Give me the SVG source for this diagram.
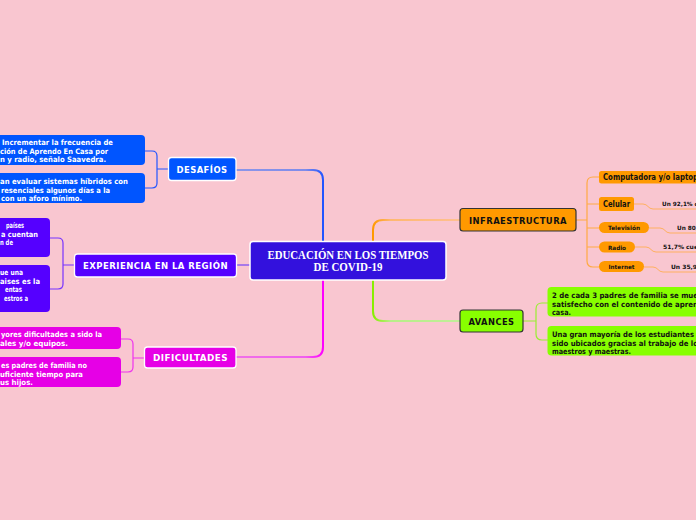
<svg xmlns="http://www.w3.org/2000/svg" width="696" height="520" viewBox="0 0 696 520">
<defs>
<style>
.t{font-family:"DejaVu Sans","Liberation Sans",sans-serif;font-weight:bold}
.w{fill:#fff}
.k{fill:#111}
.c7{font-size:7.5px}
.c8{font-size:8px}
.c6{font-size:5.8px}
.top{font-size:9.5px;letter-spacing:0.5px}
.main{fill:none;stroke-width:2;stroke-linecap:round}
.sub{fill:none;stroke-width:1.2}
.sm{fill:none;stroke:#FFB060;stroke-width:1}
</style>
<linearGradient id="gB" gradientUnits="userSpaceOnUse" x1="236" y1="0" x2="323" y2="0"><stop offset="0" stop-color="#8C96E8"/><stop offset="0.8" stop-color="#7F8CEA"/><stop offset="1" stop-color="#2255FF"/></linearGradient>
<linearGradient id="gM" gradientUnits="userSpaceOnUse" x1="236" y1="0" x2="323" y2="0"><stop offset="0" stop-color="#F070E8"/><stop offset="0.8" stop-color="#F060EE"/><stop offset="1" stop-color="#FF00FF"/></linearGradient>
<linearGradient id="gO" gradientUnits="userSpaceOnUse" x1="373" y1="0" x2="460" y2="0"><stop offset="0" stop-color="#FF9900"/><stop offset="0.2" stop-color="#FFB870"/><stop offset="1" stop-color="#FFC090"/></linearGradient>
<linearGradient id="gG" gradientUnits="userSpaceOnUse" x1="373" y1="0" x2="460" y2="0"><stop offset="0" stop-color="#88EE00"/><stop offset="0.2" stop-color="#B8EE88"/><stop offset="1" stop-color="#C0EE99"/></linearGradient>
</defs>
<rect width="696" height="520" fill="#F9C6D0"/>

<g id="connectors">
<path class="main" stroke="url(#gB)" d="M323,241 V180 Q323,170 313,170 H236"/>
<path class="main" stroke="#2255FF" d="M323,241 V182"/>
<path class="main" stroke="url(#gM)" d="M323,280 V347 Q323,357 313,357 H236"/>
<path class="main" stroke="#FF00FF" d="M323,280 V345"/>
<path class="main" stroke="#A878E8" d="M250,265 H236"/>
<path class="main" stroke="url(#gO)" d="M373,241 V230 Q373,220 383,220 H460"/>
<path class="main" stroke="url(#gG)" d="M373,280 V311 Q373,321 383,321 H460"/>
<path class="sub" stroke="#2255FF" d="M145,151 H152 Q157,151 157,156 V183 Q157,188 152,188 H145 M157,169 H169"/>
<path class="sub" stroke="#7733FF" d="M50,238 H58 Q63,238 63,243 V284 Q63,289 58,289 H50 M63,265 H74"/>
<path class="sub" stroke="#EE33EE" d="M121,339 H128 Q133,339 133,344 V367 Q133,372 128,372 H121 M133,358 H144"/>
<path class="sub" stroke="#FFAA44" d="M576,220 H587 M599,177 H593 Q587,177 587,183 V261 Q587,267 593,267 H599 M587,204 H599 M587,228 H599 M587,247 H599"/>
<path class="sub" stroke="#99EE33" d="M523,321 H536 M548,303 H542 Q536,303 536,309 V334 Q536,340 542,340 H548"/>
<path class="sm" d="M634,204 H643 C648,204 648,209 653,209 H696"/>
<path class="sm" d="M649,228 H660 C665,228 665,233 670,233 H696"/>
<path class="sm" d="M635,247 H646 C651,247 651,252 656,252 H696"/>
<path class="sm" d="M644,267 H653 C658,267 658,272 663,272 H696"/>
</g>

<g id="center">
<rect x="250" y="241.5" width="196" height="38.5" rx="3" fill="#3311DD" stroke="#fff" stroke-width="1.5"/>
<text x="348" y="259" text-anchor="middle" font-family="Liberation Serif,serif" font-weight="bold" font-size="11.5" fill="#fff" textLength="161" lengthAdjust="spacingAndGlyphs">EDUCACIÓN EN LOS TIEMPOS</text>
<text x="348" y="270.5" text-anchor="middle" font-family="Liberation Serif,serif" font-weight="bold" font-size="11.5" fill="#fff" textLength="69" lengthAdjust="spacingAndGlyphs">DE COVID-19</text>
</g>

<g id="desafios">
<rect x="168.5" y="157.5" width="67.5" height="23" rx="3" fill="#0055FF" stroke="#fff" stroke-width="1.3"/>
<text class="t w top" x="202" y="173" text-anchor="middle" textLength="51" lengthAdjust="spacingAndGlyphs">DESAFÍOS</text>
</g>
<g id="desafios-1">
<rect x="-20" y="135" width="165" height="30" rx="4" fill="#0055FF"/>
<text class="t w c7" x="2" y="145" textLength="111" lengthAdjust="spacingAndGlyphs">Incrementar la frecuencia de</text>
<text class="t w c7" x="0" y="153.5" textLength="108" lengthAdjust="spacingAndGlyphs">ción de Aprendo En Casa por</text>
<text class="t w c7" x="0" y="162" textLength="106" lengthAdjust="spacingAndGlyphs">n y radio, señalo Saavedra.</text>
</g>
<g id="desafios-2">
<rect x="-20" y="173" width="165" height="30" rx="4" fill="#0055FF"/>
<text class="t w c7" x="0" y="184" textLength="128" lengthAdjust="spacingAndGlyphs">an evaluar sistemas híbridos con</text>
<text class="t w c7" x="1" y="192.5" textLength="109" lengthAdjust="spacingAndGlyphs">resenciales algunos días a la</text>
<text class="t w c7" x="1" y="201" textLength="81" lengthAdjust="spacingAndGlyphs">con un aforo mínimo.</text>
</g>

<g id="experiencia">
<rect x="74.5" y="254" width="162" height="23" rx="3" fill="#5500FF" stroke="#fff" stroke-width="1.3"/>
<text class="t w top" x="155.5" y="269" text-anchor="middle" textLength="145" lengthAdjust="spacingAndGlyphs">EXPERIENCIA EN LA REGIÓN</text>
</g>
<g id="experiencia-1">
<rect x="-20" y="218" width="70" height="39" rx="4" fill="#5500FF"/>
<text class="t w c7" x="6" y="228" textLength="18" lengthAdjust="spacingAndGlyphs">países</text>
<text class="t w c7" x="1" y="236.5" textLength="37" lengthAdjust="spacingAndGlyphs">a cuentan</text>
<text class="t w c7" x="0" y="245" textLength="13" lengthAdjust="spacingAndGlyphs">n de</text>
</g>
<g id="experiencia-2">
<rect x="-20" y="265" width="70" height="47" rx="4" fill="#5500FF"/>
<text class="t w c7" x="0" y="275" textLength="23" lengthAdjust="spacingAndGlyphs">ue una</text>
<text class="t w c7" x="0" y="283.5" textLength="40" lengthAdjust="spacingAndGlyphs">aises es la</text>
<text class="t w c7" x="5" y="292" textLength="17" lengthAdjust="spacingAndGlyphs">entas</text>
<text class="t w c7" x="4" y="300.5" textLength="24" lengthAdjust="spacingAndGlyphs">estros a</text>
</g>

<g id="dificultades">
<rect x="144.5" y="347" width="91.5" height="21" rx="3" fill="#E600E6" stroke="#fff" stroke-width="1.3"/>
<text class="t w top" x="190.5" y="361" text-anchor="middle" textLength="75" lengthAdjust="spacingAndGlyphs">DIFICULTADES</text>
</g>
<g id="dificultades-1">
<rect x="-20" y="327" width="141" height="22" rx="4" fill="#E600E6"/>
<text class="t w c7" x="1" y="337" textLength="101" lengthAdjust="spacingAndGlyphs">yores dificultades a sido la</text>
<text class="t w c7" x="0" y="345.5" textLength="68" lengthAdjust="spacingAndGlyphs">ales y/o equipos.</text>
</g>
<g id="dificultades-2">
<rect x="-20" y="357" width="141" height="30" rx="4" fill="#E600E6"/>
<text class="t w c7" x="1" y="368" textLength="86" lengthAdjust="spacingAndGlyphs">es padres de familia no</text>
<text class="t w c7" x="0" y="376.5" textLength="83" lengthAdjust="spacingAndGlyphs">uficiente tiempo para</text>
<text class="t w c7" x="0" y="385" textLength="33" lengthAdjust="spacingAndGlyphs">us hijos.</text>
</g>

<g id="infraestructura">
<rect x="460" y="208.5" width="116" height="22.5" rx="3" fill="#FF9900" stroke="#333" stroke-width="1.2"/>
<text class="t k top" x="518" y="223.5" text-anchor="middle" textLength="98" lengthAdjust="spacingAndGlyphs">INFRAESTRUCTURA</text>
</g>
<g id="computadora">
<rect x="599" y="171" width="120" height="12.5" rx="2.5" fill="#FF9900"/>
<text class="t k c8" x="603" y="180.3" textLength="95" lengthAdjust="spacingAndGlyphs">Computadora y/o laptop</text>
</g>
<g id="celular">
<rect x="599" y="197" width="35" height="14" rx="2.5" fill="#FF9900"/>
<text class="t k c8" x="616.5" y="207.3" text-anchor="middle" textLength="27" lengthAdjust="spacingAndGlyphs">Celular</text>
<text class="t k c6" x="662" y="206" textLength="36" lengthAdjust="spacingAndGlyphs">Un 92,1% c</text>
</g>
<g id="television">
<rect x="599" y="222" width="50" height="11" rx="5.5" fill="#FF9900"/>
<text class="t k c6" x="624" y="230" text-anchor="middle" textLength="32" lengthAdjust="spacingAndGlyphs">Televisión</text>
<text class="t k c6" x="677" y="229.5" textLength="21" lengthAdjust="spacingAndGlyphs">Un 80,</text>
</g>
<g id="radio">
<rect x="599" y="241.5" width="36" height="11" rx="5.5" fill="#FF9900"/>
<text class="t k c6" x="617" y="249.5" text-anchor="middle" textLength="18" lengthAdjust="spacingAndGlyphs">Radio</text>
<text class="t k c6" x="663" y="248.5" textLength="35" lengthAdjust="spacingAndGlyphs">51,7% cue</text>
</g>
<g id="internet">
<rect x="599" y="261" width="45" height="11" rx="5.5" fill="#FF9900"/>
<text class="t k c6" x="621.5" y="269" text-anchor="middle" textLength="26" lengthAdjust="spacingAndGlyphs">Internet</text>
<text class="t k c6" x="671" y="268.5" textLength="26" lengthAdjust="spacingAndGlyphs">Un 35,9</text>
</g>

<g id="avances">
<rect x="460" y="310" width="63" height="22" rx="3" fill="#88FF00" stroke="#333" stroke-width="1.2"/>
<text class="t k top" x="491.5" y="325" text-anchor="middle" textLength="46" lengthAdjust="spacingAndGlyphs">AVANCES</text>
</g>
<g id="avances-1">
<rect x="547.5" y="287" width="170" height="29.5" rx="4" fill="#88FF00"/>
<text class="t k c7" x="552" y="298" textLength="146" lengthAdjust="spacingAndGlyphs">2 de cada 3 padres de familia se mue</text>
<text class="t k c7" x="552" y="306.5" textLength="146" lengthAdjust="spacingAndGlyphs">satisfecho con el contenido de apren</text>
<text class="t k c7" x="552" y="315" textLength="19" lengthAdjust="spacingAndGlyphs">casa.</text>
</g>
<g id="avances-2">
<rect x="547.5" y="326" width="170" height="29.5" rx="4" fill="#88FF00"/>
<text class="t k c7" x="552" y="337" textLength="142" lengthAdjust="spacingAndGlyphs">Una gran mayoría de los estudiantes</text>
<text class="t k c7" x="552" y="345.5" textLength="146" lengthAdjust="spacingAndGlyphs">sido ubicados gracias al trabajo de lo</text>
<text class="t k c7" x="552" y="354" textLength="79" lengthAdjust="spacingAndGlyphs">maestros y maestras.</text>
</g>
</svg>
